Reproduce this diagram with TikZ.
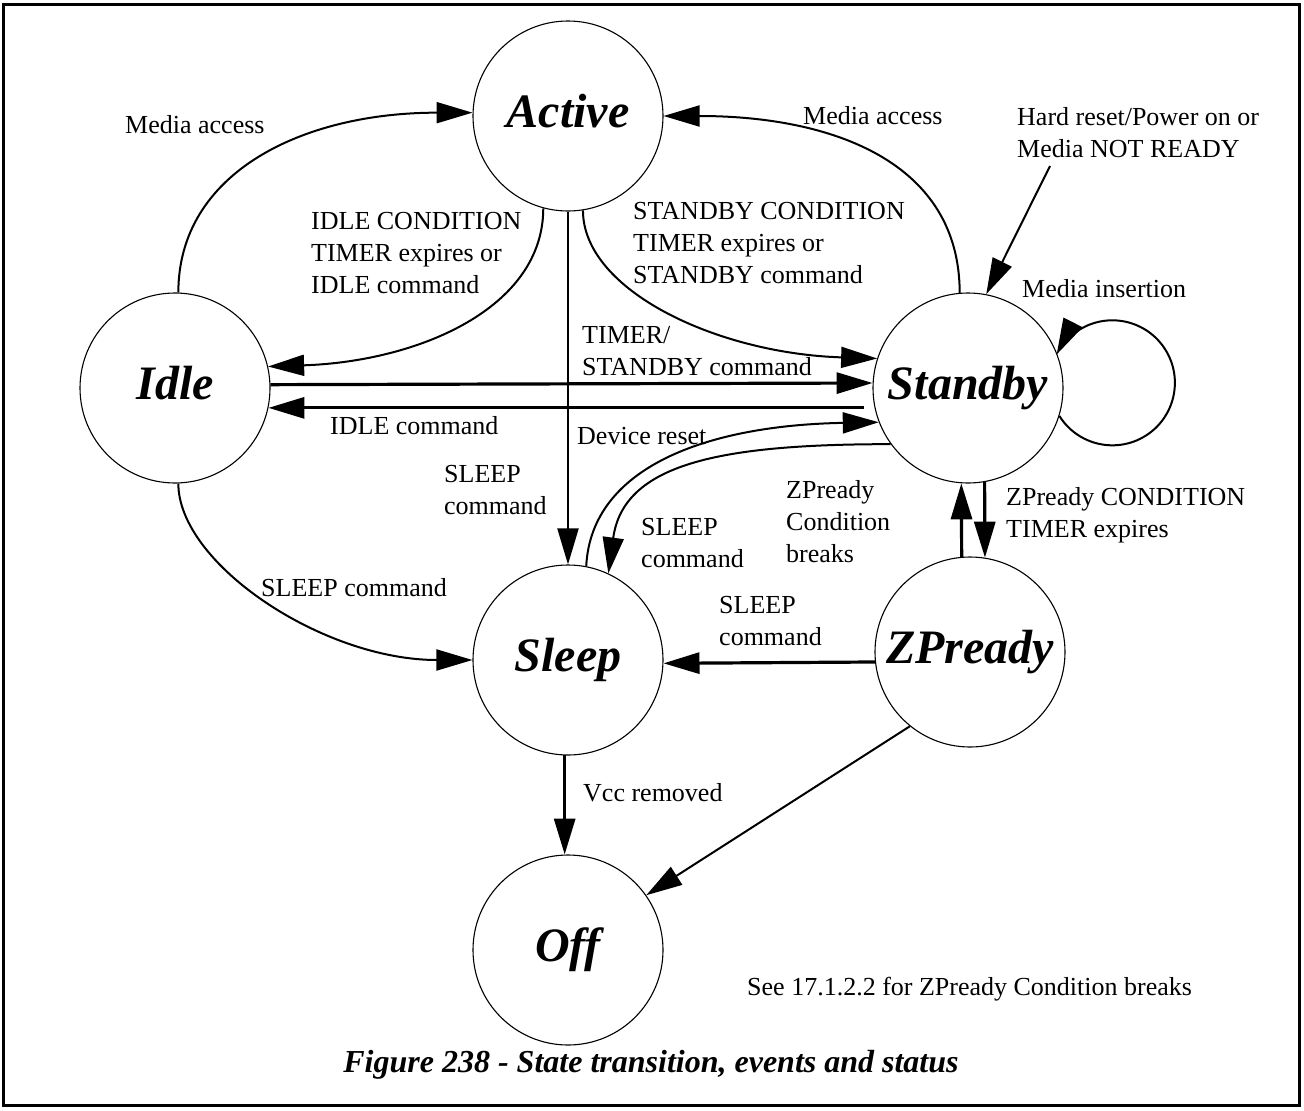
\documentclass[tikz,border=0pt]{standalone}
\usepackage{fontspec}
\setmainfont{Liberation Serif}
\usetikzlibrary{arrows.meta}
\begin{document}
\begin{tikzpicture}[x=1pt,y=-1pt,
  state/.style={circle,draw,line width=1.1pt,minimum size=190pt,inner sep=0pt,
    font=\fontsize{48}{56}\selectfont\bfseries\itshape,text height=32pt,text depth=10pt},
  lbl/.style={font=\fontsize{26}{32}\selectfont,inner sep=0pt,align=left},
  tip/.style={-{Triangle[length=36pt,width=21pt]}},
  conn/.style={tip,line width=2pt},
  heavy/.style={tip,line width=3.2pt},
]
\useasboundingbox (0,0) rectangle (1304,1111);
\draw[line width=3pt] (3,4.5) rectangle (1299,1105);

% states
\node[state] (active)  at (568,116) {Active};
\node[state] (idle)    at (175,388) {Idle};
\node[state] (standby) at (968,388) {Standby};
\node[state] (sleep)   at (568,660) {Sleep};
\node[state] (zpready) at (970,652) {ZPready};
\node[state] (off)     at (568,950) {Off};

% transitions
\draw[conn] (idle.88) .. controls +(0,-120) and +(-170,0) .. (active.178);
\draw[conn] (active.-105) .. controls +(0,100) and +(150,-5) .. (idle.13);
\draw[conn] (active.south) -- (sleep.north);
\draw[conn] (active.-81) .. controls +(0,80) and +(-160,-5) .. (standby.162);
\draw[conn] (standby.95) .. controls +(0,-130) and +(170,0) .. (active.0);
\coordinate (hardreset) at (1050,166);
\draw[conn] (hardreset) -- (standby.79);
\draw[conn] (standby.-17) arc[start angle=212,end angle=513,radius=62.5pt];
\draw[heavy] (idle.2.4) -- (standby.177.6);
\draw[heavy,shorten <=11pt] (standby.192) -- (idle.-12);
\draw[conn] (sleep.79) .. controls +(5,-100) and +(-170,3) .. (standby.201);
\draw[conn] (standby.216) .. controls +(-170,0) and +(15,-110) .. (sleep.65);
\draw[heavy] (zpready.95) -- (standby.-94);
\draw[heavy] (standby.-80) -- (zpready.81);
\draw[heavy] (zpready.186.5) -- (sleep.-2);
\draw[conn] (idle.-88) .. controls +(0,80) and +(-150,0) .. (sleep.180);
\draw[heavy] (sleep.-92) -- (off.92);
\draw[conn] (zpready.231) -- (off.35);

% event labels
\node[lbl,anchor=base west] (lmaL) at (125,133) {Media access};
\node[lbl,anchor=base west] (lmaR) at (803,124) {Media access};
\node[lbl,anchor=north west] (lhard) at (1017,102.6) {\strut Hard reset/Power on or\\Media NOT READY};
\node[lbl,anchor=north west] (lidlecond) at (311,206.6) {\strut IDLE CONDITION\\TIMER expires or\\IDLE command};
\node[lbl,anchor=north west] (lstbycond) at (633,196.6) {\strut STANDBY CONDITION\\TIMER expires or\\STANDBY command};
\node[lbl,anchor=north west] (ltimer) at (582,320.6) {\strut TIMER/\\STANDBY command};
\node[lbl,anchor=base west] (lidlecmd) at (330,434) {IDLE command};
\node[lbl,anchor=base west] (ldevreset) at (577,444) {Device reset};
\node[lbl,anchor=north west] (lsleepA) at (444,460.3) {\strut SLEEP\\command};
\node[lbl,anchor=north west] (lsleepB) at (641,512.6) {\strut SLEEP\\command};
\node[lbl,anchor=north west] (lzpbreaks) at (786,475.9) {\strut ZPready\\Condition\\breaks};
\node[lbl,anchor=north west] (lzptimer) at (1006,482.6) {\strut ZPready CONDITION\\TIMER expires};
\node[lbl,anchor=north west] (lsleepC) at (719,590.6) {\strut SLEEP\\command};
\node[lbl,anchor=base west] (lsleepD) at (261,596.5) {SLEEP command};
\node[lbl,anchor=base west] (lvcc) at (583,801.7) {Vcc removed};
\node[lbl,anchor=base west] (lsee) at (747,995) {See 17.1.2.2 for ZPready Condition breaks};
\node[lbl,anchor=base west] (lmedins) at (1022,297) {Media insertion};

% caption
\node[anchor=base,inner sep=0pt,font=\fontsize{32}{38}\selectfont\bfseries\itshape] (caption) at (651,1072) {Figure 238 - State transition, events and status};
\end{tikzpicture}
\end{document}
